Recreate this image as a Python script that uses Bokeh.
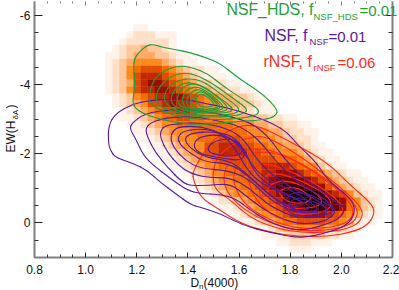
from bokeh.plotting import figure
from bokeh.embed import file_html
from bokeh.resources import INLINE
from bokeh.models import (ColumnDataSource, Range1d, LinearAxis, FixedTicker, Label,
                          LinearColorMapper)
from bokeh.transform import transform
import math

X_MAJOR = [0.8, 1.0, 1.2, 1.4, 1.6, 1.8, 2.0, 2.2]
X_MINOR = [0.85, 0.9, 0.95, 1.05, 1.1, 1.15, 1.25, 1.3, 1.35, 1.45, 1.5, 1.55, 1.65, 1.7, 1.75,
           1.85, 1.9, 1.95, 2.05, 2.1, 2.15]
Y_MAJOR = [-6, -4, -2, 0]
Y_MINOR = [-5.5, -5, -4.5, -3.5, -3, -2.5, -1.5, -1, -0.5, 0.5]
X_LIMITS = (0.8, 2.2)
Y_LIMITS = (1.0, -6.4)

# density grid (hex levels), rows top to bottom
HEAT_X0, HEAT_DX = 1.049, 0.02777
HEAT_Y0, HEAT_DY = -5.735, 0.2
HEAT_ROWS = [
    "000001100",
    "000012221110",
    "00012222221",
    "00123343321",
    "01123444332110",
    "01234555543211",
    "012356777654322110",
    "0123578887654321110",
    "01234789987654332211",
    "0123578899876544332211",
    "0012356788998765544332110",
    "0012345778988765544433211",
    "0001234567788765544332111",
    "0001123456677665555444332211",
    "000011234556666666655544332211",
    "0000011234555666666665554432211",
    "0000001123455566677766555433221",
    "00000001123455577888776655443211",
    "000000001123455778888776655543211",
    "0000000001123455677777777666543211",
    "00000000001123455667777888876553211",
    "0000000000001234556677788999876543211",
    "0000000000000123455667789aaaa987543211",
    "0000000000000012345566789abbbaa97543211",
    "00000000000000012345566789bccccb98753211",
    "00000000000000001223456678acccccba965321",
    "0000000000000000011234566789abbbaa965321",
    "0000000000000000000123455678899987654211",
    "000000000000000000001123456677776654211",
    "0000000000000000000000112344555544321",
    "000000000000000000000001112333332211",
    "000000000000000000000000011222111",
    "000000000000000000000000000111",
]
HEAT_PALETTE = ["#fff2e8", "#ffe0c8", "#ffc79a", "#ffa964", "#ff8a1e", "#f56c00",
                "#e04e00", "#c22800", "#9c0e00", "#6a0400", "#380000", "#100000"]

GREEN = [
 [(1.187,-4.49),(1.191,-4.75),(1.207,-4.92),(1.238,-5.13),(1.265,-5.16),(1.305,-5.07),(1.351,-5.01),(1.410,-4.92),(1.469,-4.78),(1.527,-4.61),(1.594,-4.20),(1.672,-3.83),(1.723,-3.51),(1.750,-3.25),(1.746,-3.13),(1.723,-3.02),(1.664,-2.96),(1.586,-2.93),(1.508,-2.87),(1.430,-2.84),(1.351,-2.90),(1.281,-3.02),(1.226,-3.16),(1.195,-3.31),(1.183,-3.48),(1.191,-3.83),(1.191,-4.17)],
 [(1.246,-3.54),(1.254,-3.88),(1.269,-4.17),(1.305,-4.40),(1.363,-4.55),(1.418,-4.49),(1.476,-4.32),(1.535,-3.97),(1.605,-3.62),(1.664,-3.36),(1.680,-3.22),(1.664,-3.10),(1.605,-3.02),(1.527,-2.99),(1.449,-2.99),(1.371,-3.05),(1.305,-3.22),(1.261,-3.39)],
 [(1.273,-3.54),(1.281,-3.83),(1.305,-4.09),(1.340,-4.26),(1.390,-4.35),(1.437,-4.26),(1.496,-4.03),(1.551,-3.74),(1.605,-3.45),(1.633,-3.28),(1.621,-3.16),(1.566,-3.08),(1.488,-3.05),(1.410,-3.10),(1.340,-3.22),(1.293,-3.36)],
 [(1.305,-3.54),(1.312,-3.80),(1.332,-4.00),(1.371,-4.14),(1.410,-4.17),(1.449,-4.12),(1.496,-3.91),(1.547,-3.62),(1.590,-3.39),(1.602,-3.25),(1.582,-3.16),(1.527,-3.10),(1.449,-3.10),(1.379,-3.19),(1.332,-3.33)],
 [(1.332,-3.54),(1.340,-3.77),(1.359,-3.94),(1.390,-4.06),(1.430,-4.03),(1.469,-3.91),(1.512,-3.68),(1.559,-3.42),(1.578,-3.28),(1.559,-3.19),(1.496,-3.16),(1.430,-3.19),(1.371,-3.28),(1.344,-3.39)],
 [(1.355,-3.54),(1.363,-3.74),(1.383,-3.94),(1.414,-4.03),(1.449,-3.97),(1.488,-3.80),(1.527,-3.57),(1.559,-3.33),(1.543,-3.22),(1.480,-3.19),(1.422,-3.22),(1.379,-3.31)],
 [(1.375,-3.54),(1.383,-3.71),(1.402,-3.88),(1.434,-3.94),(1.469,-3.83),(1.504,-3.62),(1.543,-3.36),(1.527,-3.25),(1.469,-3.22),(1.418,-3.25),(1.387,-3.36)],
 [(1.394,-3.54),(1.402,-3.68),(1.422,-3.83),(1.449,-3.86),(1.480,-3.71),(1.508,-3.54),(1.531,-3.36),(1.516,-3.28),(1.469,-3.25),(1.422,-3.28),(1.398,-3.39)],
 [(1.410,-3.54),(1.422,-3.65),(1.441,-3.80),(1.465,-3.77),(1.492,-3.60),(1.520,-3.39),(1.508,-3.31),(1.469,-3.28),(1.430,-3.31),(1.414,-3.42)],
 [(1.430,-3.60),(1.449,-3.74),(1.476,-3.65),(1.508,-3.42),(1.476,-3.33),(1.441,-3.39)],
]
PURPLE = [
 [(1.254,-3.54),(1.320,-3.57),(1.398,-3.57),(1.449,-3.48),(1.555,-3.33),(1.656,-3.10),(1.734,-2.87),(1.789,-2.61),(1.828,-2.27),(1.906,-1.72),(1.938,-1.31),(1.996,-0.94),(2.043,-0.65),(2.055,-0.30),(2.023,0.08),(1.930,0.31),(1.840,0.45),(1.723,0.28),(1.617,0.08),(1.527,-0.27),(1.449,-0.45),(1.410,-0.53),(1.351,-0.85),(1.293,-1.17),(1.242,-1.51),(1.187,-1.72),(1.117,-1.89),(1.097,-2.09),(1.089,-2.30),(1.089,-2.82),(1.117,-3.16),(1.187,-3.45)],
 [(1.172,-2.73),(1.183,-2.90),(1.226,-3.13),(1.293,-3.25),(1.371,-3.28),(1.449,-3.25),(1.555,-3.10),(1.645,-2.90),(1.711,-2.53),(1.754,-2.09),(1.801,-1.66),(1.852,-1.31),(1.918,-0.94),(1.988,-0.56),(2.016,-0.42),(1.996,-0.13),(1.918,0.10),(1.840,0.22),(1.770,0.13),(1.703,-0.10),(1.645,-0.36),(1.586,-0.71),(1.527,-0.82),(1.449,-0.85),(1.398,-0.94),(1.332,-1.28),(1.265,-1.66),(1.226,-1.95),(1.195,-2.44)],
 [(1.242,-2.47),(1.234,-2.73),(1.254,-2.90),(1.320,-3.05),(1.422,-3.08),(1.578,-2.87),(1.645,-2.61),(1.695,-2.24),(1.742,-1.80),(1.801,-1.37),(1.852,-1.05),(1.910,-0.82),(1.957,-0.56),(1.980,-0.30),(1.938,-0.04),(1.840,0.05),(1.762,-0.13),(1.691,-0.42),(1.625,-0.79),(1.566,-1.14),(1.476,-1.08),(1.410,-1.08),(1.379,-1.17),(1.320,-1.60),(1.273,-2.04)],
 [(1.293,-2.44),(1.293,-2.67),(1.312,-2.82),(1.371,-2.87),(1.449,-2.90),(1.555,-2.73),(1.617,-2.44),(1.664,-1.89),(1.715,-1.46),(1.781,-1.14),(1.840,-0.88),(1.910,-0.65),(1.949,-0.36),(1.926,-0.18),(1.840,-0.13),(1.770,-0.30),(1.703,-0.59),(1.637,-1.02),(1.566,-1.31),(1.476,-1.31),(1.410,-1.43),(1.363,-1.66),(1.320,-2.04)],
 [(1.332,-2.44),(1.340,-2.67),(1.371,-2.79),(1.449,-2.79),(1.527,-2.61),(1.594,-2.30),(1.633,-1.86),(1.684,-1.37),(1.762,-1.08),(1.840,-0.79),(1.898,-0.50),(1.910,-0.36),(1.840,-0.27),(1.781,-0.42),(1.715,-0.71),(1.645,-1.23),(1.566,-1.51),(1.449,-1.57),(1.390,-1.80),(1.344,-2.18)],
 [(1.359,-2.47),(1.383,-2.67),(1.469,-2.73),(1.535,-2.56),(1.586,-2.15),(1.621,-1.66),(1.668,-1.23),(1.742,-0.94),(1.820,-0.71),(1.887,-0.47),(1.848,-0.33),(1.781,-0.47),(1.715,-0.82),(1.645,-1.31),(1.566,-1.72),(1.469,-1.75),(1.410,-2.01),(1.371,-2.24)],
 [(1.383,-2.44),(1.418,-2.61),(1.496,-2.64),(1.574,-2.53),(1.625,-2.09),(1.652,-1.57),(1.703,-1.14),(1.781,-0.85),(1.859,-0.56),(1.820,-0.45),(1.762,-0.59),(1.691,-0.99),(1.617,-1.51),(1.559,-1.80),(1.469,-1.89),(1.410,-2.15)],
 [(1.422,-2.30),(1.449,-2.50),(1.520,-2.56),(1.586,-2.38),(1.629,-2.01),(1.605,-1.80),(1.547,-1.86),(1.469,-1.95),(1.430,-2.09)],
 [(1.476,-2.18),(1.508,-2.38),(1.566,-2.44),(1.605,-2.30),(1.617,-2.04),(1.578,-1.92),(1.520,-1.95),(1.484,-2.04)],
 [(1.773,-0.56),(1.801,-0.88),(1.859,-0.88),(1.926,-0.65),(1.977,-0.36),(1.938,-0.21),(1.840,-0.18),(1.793,-0.30)],
 [(1.793,-0.50),(1.813,-0.73),(1.879,-0.65),(1.957,-0.42),(1.918,-0.30),(1.840,-0.30)],
]
RED = [
 [(1.418,-1.46),(1.449,-1.89),(1.496,-2.38),(1.535,-2.56),(1.605,-2.82),(1.664,-2.82),(1.715,-2.67),(1.813,-2.30),(1.945,-1.75),(2.036,-1.08),(2.114,-0.59),(2.133,-0.30),(2.102,0.08),(2.036,0.28),(1.945,0.39),(1.828,0.39),(1.723,0.28),(1.605,0.02),(1.516,-0.42),(1.449,-0.73),(1.422,-1.23)],
 [(1.496,-1.31),(1.508,-1.86),(1.566,-2.24),(1.625,-2.44),(1.691,-2.53),(1.774,-2.24),(1.891,-1.66),(1.996,-1.02),(2.075,-0.50),(2.086,-0.16),(2.047,0.13),(1.945,0.28),(1.840,0.28),(1.750,0.16),(1.645,-0.13),(1.559,-0.71),(1.508,-0.94)],
 [(1.535,-1.28),(1.559,-1.80),(1.637,-2.18),(1.742,-2.09),(1.898,-1.51),(2.036,-0.71),(2.071,-0.30),(2.036,0.10),(1.898,0.25),(1.781,0.16),(1.645,-0.24),(1.559,-0.79)],
 [(1.574,-1.37),(1.605,-1.86),(1.676,-2.09),(1.781,-1.95),(1.898,-1.46),(2.016,-0.79),(2.055,-0.30),(2.016,0.05),(1.898,0.19),(1.781,0.10),(1.645,-0.36),(1.590,-0.88)],
 [(1.633,-1.28),(1.656,-1.60),(1.703,-1.72),(1.774,-1.57),(1.879,-1.23),(1.977,-0.73),(2.016,-0.36),(1.977,-0.07),(1.859,0.05),(1.742,-0.13),(1.664,-0.65)],
 [(1.676,-1.08),(1.703,-1.40),(1.762,-1.43),(1.840,-1.23),(1.938,-0.85),(1.969,-0.50),(1.918,-0.27),(1.820,-0.24),(1.730,-0.42),(1.684,-0.73)],
 [(1.707,-0.94),(1.734,-1.17),(1.789,-1.23),(1.867,-1.02),(1.926,-0.71),(1.918,-0.50),(1.867,-0.42),(1.789,-0.42),(1.730,-0.59)],
 [(1.750,-0.88),(1.781,-1.02),(1.828,-1.02),(1.879,-0.79),(1.879,-0.65),(1.848,-0.56),(1.789,-0.59)],
]

FONT = "Liberation Sans"
C_GREEN, C_PURPLE, C_RED = "#1f9e3a", "#5a189e", "#ff2a1a"
C_AXIS = "#808080"

# The frame fills the whole canvas so side texts are not cut; the ranges are
# widened by the margin sizes and the axes are pinned at the real limits.
W, H = 399, 290
M_L, M_R, M_T, M_B = 34, 7, 1, 33
sx = (X_LIMITS[1] - X_LIMITS[0]) / (W - M_L - M_R)
sy = (Y_LIMITS[0] - Y_LIMITS[1]) / (H - M_T - M_B)

p = figure(width=W, height=H, output_backend="svg", toolbar_location=None,
           x_range=Range1d(X_LIMITS[0] - M_L * sx, X_LIMITS[1] + M_R * sx),
           y_range=Range1d(Y_LIMITS[0] + M_B * sy, Y_LIMITS[1] - M_T * sy),
           min_border=0, x_axis_type=None, y_axis_type=None,
           outline_line_color=None, background_fill_color="white")
p.grid.visible = False

left, right, top, bottom, level = [], [], [], [], []
for r, row in enumerate(HEAT_ROWS):
    for c, ch in enumerate(row):
        v = int(ch, 16)
        if v:
            left.append(HEAT_X0 + c * HEAT_DX)
            right.append(HEAT_X0 + (c + 1) * HEAT_DX)
            top.append(HEAT_Y0 + r * HEAT_DY)
            bottom.append(HEAT_Y0 + (r + 1) * HEAT_DY)
            level.append(v)
src = ColumnDataSource(dict(left=left, right=right, top=top, bottom=bottom, level=level))
cm = LinearColorMapper(palette=HEAT_PALETTE, low=1, high=12)
p.quad(left="left", right="right", top="top", bottom="bottom", source=src,
       fill_color=transform("level", cm), line_color=transform("level", cm), line_width=0.4)

# each contour is stroked as a closed curve: its read points are the control points
for group, color in ((RED, C_RED), (PURPLE, C_PURPLE), (GREEN, C_GREEN)):
    for c in group:
        n = len(c)
        x0, y0, x1, y1, cx, cy = [], [], [], [], [], []
        for i in range(n):
            a, b, d = c[i - 1], c[i], c[(i + 1) % n]
            x0.append((a[0] + b[0]) / 2)
            y0.append((a[1] + b[1]) / 2)
            x1.append((b[0] + d[0]) / 2)
            y1.append((b[1] + d[1]) / 2)
            cx.append(b[0])
            cy.append(b[1])
        p.quadratic(x0=x0, y0=y0, x1=x1, y1=y1, cx=cx, cy=cy,
                    line_color=color, line_width=1.1, line_cap="round")


def style(ax, major_in, minor_in, labels):
    ax.axis_line_color = C_AXIS
    ax.axis_line_width = 2
    ax.major_tick_in = major_in
    ax.major_tick_out = 0
    ax.minor_tick_in = minor_in
    ax.minor_tick_out = 0
    ax.major_tick_line_color = "#222222"
    ax.minor_tick_line_color = "#333333"
    ax.major_label_text_font = FONT
    ax.major_label_text_font_size = "12px"
    ax.major_label_text_color = "#111111"
    if not labels:
        ax.major_label_text_font_size = "0px"
        ax.major_label_text_color = None
        ax.major_label_standoff = 0


xt = FixedTicker(ticks=X_MAJOR, minor_ticks=X_MINOR)
yt = FixedTicker(ticks=Y_MAJOR, minor_ticks=Y_MINOR)
xbounds, ybounds = X_LIMITS, (Y_LIMITS[1], Y_LIMITS[0])
xb = LinearAxis(ticker=xt, major_label_standoff=7, fixed_location=Y_LIMITS[0], bounds=xbounds)
style(xb, 5, 3, True)
xb.major_label_overrides = {v: f"{v:.1f}" for v in X_MAJOR}
xa = LinearAxis(ticker=xt, fixed_location=Y_LIMITS[1], bounds=xbounds)
style(xa, 4, 2, False)
xa.axis_line_color = None
xa.major_tick_line_color = C_AXIS
xa.minor_tick_line_color = C_AXIS
yl = LinearAxis(ticker=yt, major_label_standoff=4, fixed_location=X_LIMITS[0], bounds=ybounds)
style(yl, 8, 4, True)
yl.major_label_overrides = {v: str(v) for v in Y_MAJOR}
yr = LinearAxis(ticker=yt, fixed_location=X_LIMITS[1], bounds=ybounds)
style(yr, 8, 4, False)
p.add_layout(xb, "below")
p.add_layout(xa, "above")
p.add_layout(yl, "left")
p.add_layout(yr, "right")


def txt(px, py, s, size, color, angle=0.0):
    # Label centres its text on the anchor across the baseline direction
    d = 0.36 * size
    if angle:
        px = px - d
    else:
        py = py - d
    p.add_layout(Label(x=px, y=H - py, x_units="screen", y_units="screen",
                       text=s, text_font=FONT, text_font_size=f"{size}px", text_color=color,
                       text_baseline="alphabetic", text_align="left", angle=angle))


txt(226, 15, "NSF_HDS, f", 15.8, C_GREEN)
txt(313, 19, "NSF_HDS", 9.5, C_GREEN)
txt(359, 15, "=0.01", 15, C_GREEN)
txt(264, 41, "NSF, f", 15.8, C_PURPLE)
txt(309, 44, "NSF", 9.5, C_PURPLE)
txt(328, 41, "=0.01", 15, C_PURPLE)
txt(263, 67, "rNSF, f", 15.8, C_RED)
txt(313, 70, "rNSF", 9.5, C_RED)
txt(337, 67, "=0.06", 15, C_RED)

txt(190, 287, "D", 12, "#111111")
txt(198.5, 289, "n", 8, "#111111")
txt(203, 287, "(4000)", 12, "#111111")
up = math.pi / 2
txt(15, 152, "EW(H", 12, "#111111", up)
txt(18, 119, "δA", 8, "#111111", up)
txt(15, 108, ")", 12, "#111111", up)

open("out.html", "w").write(file_html(p, INLINE))
